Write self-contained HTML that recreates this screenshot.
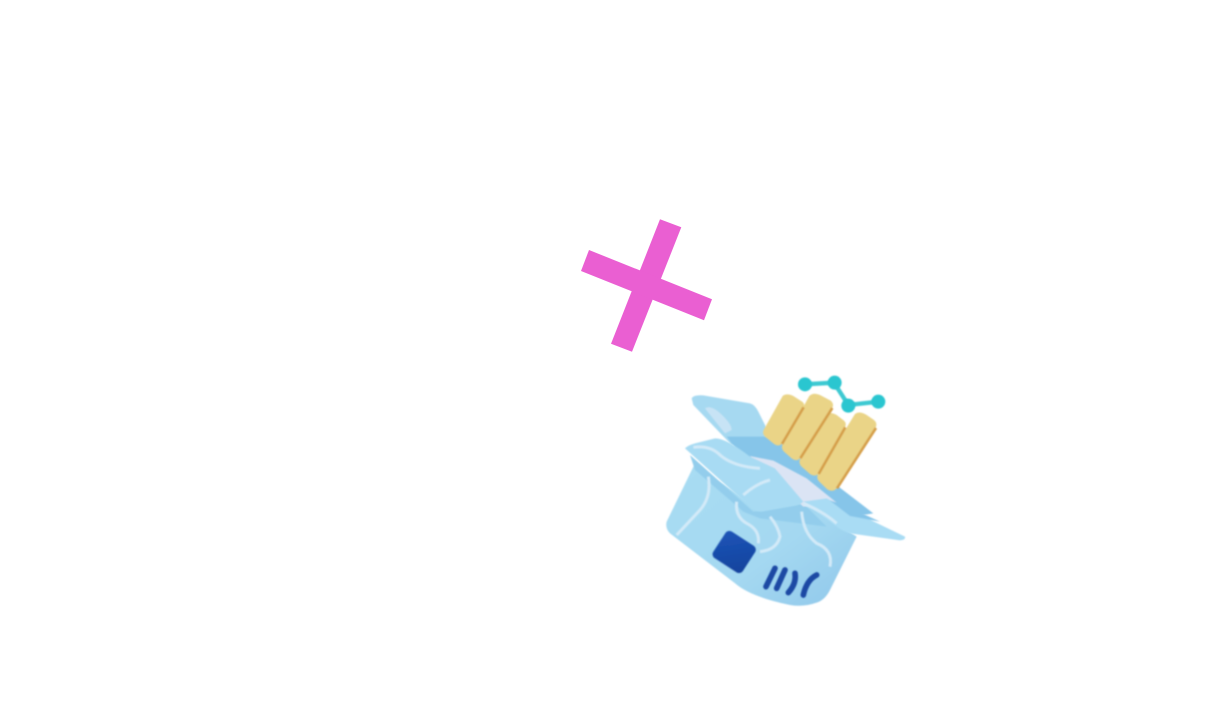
<!DOCTYPE html>
<html>
<head>
<meta charset="utf-8">
<style>
html,body{margin:0;padding:0;background:#fff;width:1228px;height:708px;overflow:hidden}
svg{display:block}
</style>
</head>
<body>
<svg width="1228" height="708" viewBox="0 0 1228 708" xmlns="http://www.w3.org/2000/svg">
<defs>
<filter id="s" x="-15%" y="-15%" width="130%" height="130%"><feGaussianBlur stdDeviation="2.6"/></filter>
<linearGradient id="body" x1="0" y1="0" x2="1" y2="1">
<stop offset="0" stop-color="#a8dcf3"/><stop offset="0.6" stop-color="#a4d8f1"/><stop offset="1" stop-color="#8fc7ea"/>
</linearGradient>
<linearGradient id="blue" x1="0" y1="0" x2="1" y2="1">
<stop offset="0" stop-color="#1b55b8"/><stop offset="1" stop-color="#16429c"/>
</linearGradient>
</defs>

<polygon fill="#ea5fd2" points="660,219.3 681.3,227.3 632,351.7 611,343.7"/>
<polygon fill="#ea5fd2" points="589,250 712,299.3 704,320.3 581,271"/>

<g transform="translate(660 370) scale(.3333)">
<g filter="url(#s)">
<!-- back flap -->
<path d="M95 85 Q100 74 130 76 L270 100 Q285 104 295 125 L340 215 L215 225 L100 105 Z" fill="#a6d9f1"/>
<path d="M135 115 Q150 105 175 125 Q215 160 215 180 L195 190 Z" fill="#c7e3f5"/>
<!-- interior -->
<path d="M200 200 L340 200 L640 430 L520 450 L260 280 Z" fill="#86c5e9"/>
<!-- body -->
<path d="M105 280 L20 455 Q15 475 30 490 L225 640 Q270 680 390 705 Q430 712 470 698 Q495 690 510 660 L590 500 L430 395 L290 415 Z" fill="url(#body)"/>
<path d="M90 255 L280 425 L430 400 L500 470 L300 445 L250 425 L105 300 Z" fill="#93cdec"/>
</g>
<!-- bars -->
<g filter="url(#s)">
<path d="M368 78 Q380 68 400 78 L428 96 Q436 104 430 115 L365 222 Q355 232 340 220 L315 200 Q305 188 312 178 Z" fill="#ead487"/>
<path d="M448 78 Q460 66 480 75 L512 92 Q524 102 516 116 L420 265 Q410 276 395 265 L372 245 Q362 235 368 222 Z" fill="#ead487"/>
<path d="M500 132 Q512 125 530 135 L552 152 Q562 162 554 174 L475 312 Q465 322 450 312 L425 290 Q415 280 420 268 Z" fill="#ead487"/>
<path d="M585 132 Q598 122 620 135 L642 150 Q654 160 646 176 L530 355 Q518 368 502 358 L478 335 Q468 325 474 312 Z" fill="#ead487"/>
<path d="M431 112 L366 222 M517 114 L421 265 M556 172 L476 312 M648 174 L531 355" stroke="#d59f48" stroke-width="8" fill="none"/>
</g>
<!-- flaps -->
<g filter="url(#s)">
<path d="M270 258 L340 272 L440 325 L530 398 L430 410 L340 330 Z" fill="#dbe4f4"/>
<path d="M75 235 Q85 225 105 220 L165 205 Q200 205 270 260 L345 295 L430 395 Q420 405 400 408 L305 425 Q285 425 270 410 Z" fill="#a8dbf3"/>
<path d="M430 395 L500 385 L570 420 L735 500 Q738 510 720 511 L570 490 Q550 485 530 470 Z" fill="#a9dcf4"/>
<path d="M510 392 L540 400 L660 455 L570 438 Z" fill="#86c5e9"/>
</g>
<g fill="none" stroke="#d3eaf8" stroke-width="9" filter="url(#s)">
<path d="M145 320 Q155 380 120 420 L50 495"/>
<path d="M100 232 Q150 225 180 255 Q220 290 300 295"/>
<path d="M230 395 Q225 440 260 460 Q300 480 295 520"/>
<path d="M300 545 Q350 540 360 500 Q355 470 330 440"/>
<path d="M425 425 Q430 490 470 520 Q520 540 510 590"/>
<path d="M430 400 Q490 425 530 460"/>
<path d="M250 375 Q290 340 330 330"/>
</g>
<!-- label -->
<rect x="170" y="498" width="106" height="95" rx="14" transform="rotate(33 222 545)" fill="url(#blue)" filter="url(#s)"/>
<g stroke="#1d4aa4" stroke-width="17" stroke-linecap="round" fill="none" filter="url(#s)">
<path d="M345 595 L318 650"/>
<path d="M375 600 L350 655"/>
<path d="M405 610 Q410 640 385 668"/>
<path d="M470 615 Q440 630 430 675"/>
</g>
<!-- molecule -->
<g stroke="#3cc9d2" stroke-width="13" fill="none" filter="url(#s)">
<path d="M435 43 L522 38 L565 105 L655 95"/>
</g>
<g fill="#2cc6d0" filter="url(#s)">
<circle cx="435" cy="43" r="21"/><circle cx="524" cy="38" r="21"/><circle cx="565" cy="107" r="21"/><circle cx="655" cy="95" r="21"/>
</g>
</g>
</svg>
</body>
</html>
